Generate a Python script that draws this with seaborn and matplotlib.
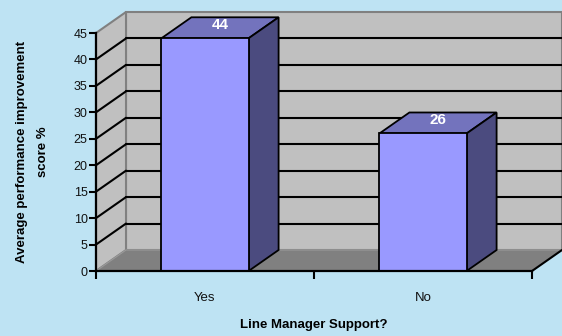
import matplotlib
matplotlib.use("Agg")
import matplotlib.pyplot as plt
import seaborn as sns
import pandas as pd
from matplotlib.patches import Polygon
from matplotlib.lines import Line2D

categories = ["Yes", "No"]
values = [44, 26]
yticks = [0, 5, 10, 15, 20, 25, 30, 35, 40, 45]
ylabel = "Average performance improvement\nscore %"
xlabel = "Line Manager Support?"

BG = "#BEE3F3"
FRONT = "#9999FF"
TOP = "#7373BD"
SIDE = "#4B4B7F"
WALL = "#C0C0C0"
FLOOR = "#808080"
DX, DY = 30, 21  # depth offset in pixels

sns.set_theme(style="white")
plt.rcParams["font.family"] = ["Liberation Sans", "DejaVu Sans"]

fig = plt.figure(figsize=(5.62, 3.36), dpi=100, facecolor=BG)
ax = fig.add_axes([96/562, 1-271/336, 436/562, 238/336])
ax.patch.set_visible(False)

df = pd.DataFrame({"cat": categories, "val": values})
sns.barplot(data=df, x="cat", y="val", ax=ax, color=FRONT, saturation=1,
            width=0.4, edgecolor="black", linewidth=1.3, zorder=3)
ax.set_xlim(-0.5, 1.5)
ax.set_ylim(0, 45)
bars = list(ax.patches)

fig.canvas.draw()
inv = ax.transData.inverted()

def off(x, y, k=1.0):
    px = ax.transData.transform((x, y))
    return tuple(inv.transform((px[0] + DX*k, px[1] + DY*k)))

xmin, xmax = -0.5, 1.5
# back wall
back = [off(xmin, 0), off(xmax, 0), off(xmax, 45), off(xmin, 45)]
ax.add_patch(Polygon(back, closed=True, facecolor=WALL, edgecolor=FLOOR,
                     linewidth=1.5, zorder=0.5, clip_on=False))
# left wall
left = [(xmin, 0), (xmin, 45), off(xmin, 45), off(xmin, 0)]
ax.add_patch(Polygon(left, closed=True, facecolor=WALL, edgecolor=FLOOR,
                     linewidth=1.5, zorder=0.55, clip_on=False))
# gridlines
for t in yticks[1:-1]:
    a, b = off(xmin, t), off(xmax, t)
    ax.add_line(Line2D([a[0], b[0]], [a[1], b[1]], color="black", lw=1.5,
                       zorder=0.6, clip_on=False))
    ax.add_line(Line2D([xmin, a[0]], [t, a[1]], color="black", lw=1.5,
                       zorder=0.6, clip_on=False))
# floor
floor = [(xmin, 0), (xmax, 0), off(xmax, 0), off(xmin, 0)]
ax.add_patch(Polygon(floor, closed=True, facecolor=FLOOR, edgecolor="#9A9A9A",
                     linewidth=0.8, zorder=0.7, clip_on=False))
b = off(xmax, 0)
ax.add_line(Line2D([xmax, b[0]], [0, b[1]], color="black", lw=1.5,
                   zorder=0.8, clip_on=False))

# 3D bar faces
for p, v in zip(bars, values):
    x0 = p.get_x(); x1 = x0 + p.get_width(); h = p.get_height()
    top = [(x0, h), (x1, h), off(x1, h), off(x0, h)]
    side = [(x1, 0), (x1, h), off(x1, h), off(x1, 0)]
    ax.add_patch(Polygon(top, closed=True, facecolor=TOP, edgecolor="black",
                         linewidth=1.3, zorder=2.9, clip_on=False))
    ax.add_patch(Polygon(side, closed=True, facecolor=SIDE, edgecolor="black",
                         linewidth=1.3, zorder=2.9, clip_on=False))
    cx, cy = off((x0 + x1) / 2, h, 0.5)
    ax.annotate(str(v), (cx, cy), xytext=(0, 2), textcoords="offset points",
                ha="center", va="center", color="white", fontsize=11,
                fontweight="bold", zorder=5, annotation_clip=False)

# spines and ticks
for s in ["top", "right"]:
    ax.spines[s].set_visible(False)
for s in ["left", "bottom"]:
    ax.spines[s].set_visible(True)
    ax.spines[s].set_color("black")
    ax.spines[s].set_linewidth(1.6)
    ax.spines[s].set_zorder(4)
ax.set_yticks(yticks)
ax.tick_params(axis="y", direction="out", length=5, width=1.5, color="black",
               labelsize=9, pad=1, left=True, labelcolor="#111111")
ax.set_xticks([0, 1])
ax.set_xticklabels(categories)
ax.tick_params(axis="x", length=0, pad=15, labelsize=9.5, labelcolor="#111111")
ax.set_xticks([-0.5, 0.5, 1.5], minor=True)
ax.tick_params(axis="x", which="minor", direction="out", length=6, width=1.5,
               color="black", bottom=True)
ax.grid(False)

ax.set_ylabel(ylabel, fontsize=9.5, fontweight="bold", color="black",
              linespacing=2.0)
ax.yaxis.set_label_coords(-0.108, 0.5)
ax.set_xlabel(xlabel, fontsize=9.5, fontweight="bold", color="black")
ax.xaxis.set_label_coords(0.5, -0.2)

fig.savefig("out.png", dpi=100, facecolor=BG)
